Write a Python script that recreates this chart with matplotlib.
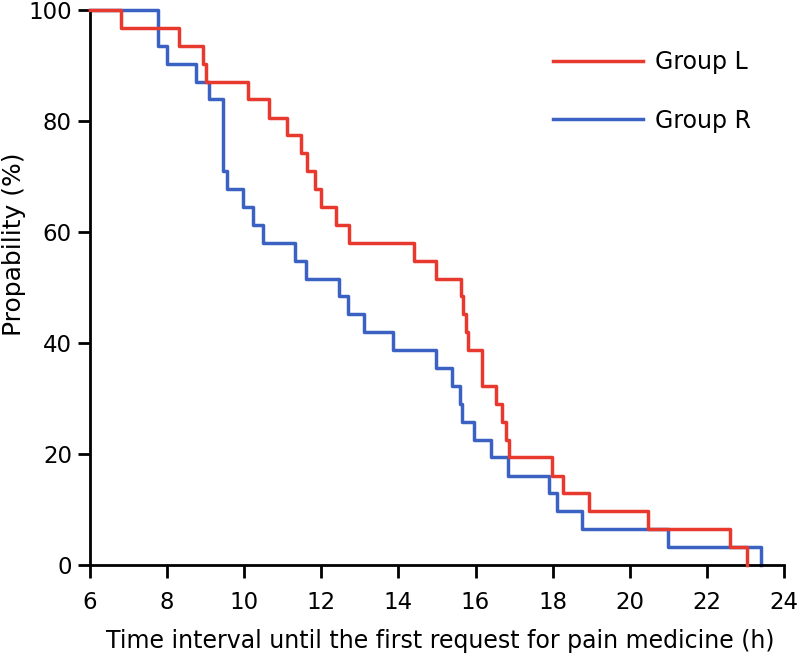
import matplotlib
matplotlib.use("Agg")
import matplotlib.pyplot as plt

# Group L (red) step data: event times (h) and survival probability (%)
red_t = [6.0, 6.8, 8.3, 8.94, 9.0, 10.1, 10.63, 11.12, 11.46, 11.63, 11.84, 11.98,
         12.38, 12.72, 14.4, 14.98, 15.62, 15.68, 15.75, 15.8, 16.18, 16.53, 16.68,
         16.8, 16.88, 17.97, 18.28, 18.93, 20.48, 22.6, 23.03]
red_p = [100, 96.8, 93.5, 90.3, 87.1, 83.9, 80.6, 77.4, 74.2, 71.0, 67.7, 64.5,
         61.3, 58.1, 54.8, 51.6, 48.4, 45.2, 41.9, 38.7, 32.3, 29.0, 25.8,
         22.6, 19.4, 16.1, 12.9, 9.7, 6.5, 3.2, 0]

# Group R (blue)
blue_t = [6.0, 7.76, 8.0, 8.75, 9.09, 9.46, 9.55, 9.96, 10.22, 10.49, 11.31, 11.6,
          12.47, 12.7, 13.1, 13.85, 14.97, 15.38, 15.6, 15.64, 15.96, 16.4, 16.85,
          17.9, 18.1, 18.75, 21.0, 23.4]
blue_p = [100, 93.5, 90.3, 87.1, 83.9, 71.0, 67.7, 64.5, 61.3, 58.1, 54.8, 51.6,
          48.4, 45.2, 41.9, 38.7, 35.5, 32.3, 29.0, 25.8, 22.6, 19.4, 16.1,
          12.9, 9.7, 6.5, 3.2, 0]

xticks = [6, 8, 10, 12, 14, 16, 18, 20, 22, 24]
yticks = [0, 20, 40, 60, 80, 100]

plt.rcParams['font.family'] = ['DejaVu Sans']

fig = plt.figure(figsize=(8, 6.62), dpi=100)
ax = fig.add_axes([90/800, 1-565/662, (784-90)/800, (565-10)/662])

red_c = '#E8392F'
blue_c = '#3B62C2'
ax.step(red_t, red_p, where='post', color=red_c, lw=2.5, label='Group L', clip_on=False, zorder=3)
ax.step(blue_t, blue_p, where='post', color=blue_c, lw=2.5, label='Group R', clip_on=False, zorder=2)

ax.set_xlim(6, 24)
ax.set_ylim(0, 100)
ax.set_xticks(xticks)
ax.set_yticks(yticks)
for s in ['top', 'right']:
    ax.spines[s].set_visible(False)
for s in ['left', 'bottom']:
    ax.spines[s].set_linewidth(2)
    ax.spines[s].set_color('black')
ax.tick_params(axis='both', width=2, labelsize=16.5, color='black', direction='out')
ax.tick_params(axis='x', length=9.5, pad=9)
ax.tick_params(axis='y', length=9, pad=4)

ax.set_xlabel('Time interval until the first request for pain medicine (h)', fontsize=17)
ax.xaxis.set_label_coords(0.505, (565-641)/555, transform=ax.transAxes)
ax.set_ylabel('Propability (%)', fontsize=18, va='center')
ax.yaxis.set_label_coords((14-90)/694, (565-244)/555, transform=ax.transAxes)
ax.xaxis.label.set_va('center')

leg = ax.legend(loc='upper left', bbox_to_anchor=(553/800, 1-50/662), bbox_transform=fig.transFigure,
                frameon=False, fontsize=17, handlelength=3.8, handletextpad=0.5, labelspacing=1.47,
                borderpad=0, borderaxespad=0)

fig.savefig('out.png', dpi=100)
